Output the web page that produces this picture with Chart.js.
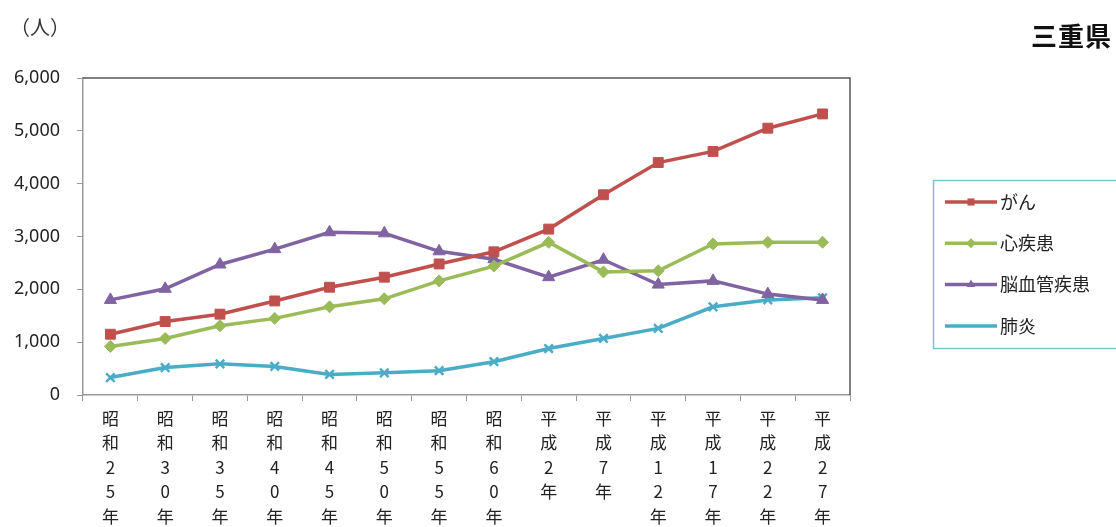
<!DOCTYPE html>
<html lang="ja">
<head>
<meta charset="UTF-8">
<title>三重県 主要死因別死亡数の推移</title>
<script src="https://cdn.jsdelivr.net/npm/chart.js"></script>
<style>
    html, body { margin: 0; padding: 0; background: #fff; }
    .wrap { position: relative; width: 1116px; height: 527px; font-family: 'Noto Sans CJK JP', 'Noto Sans', sans-serif; }
    .unit { position: absolute; left: 10px; top: 12px; font-size: 20px; color: #333; }
    .pref { position: absolute; right: 4px; top: 16px; font-size: 26px; font-weight: 700; color: #111; letter-spacing: 1px; }
    canvas { position: absolute; left: 0; top: 0; }
</style>
</head>
<body>
<div class="wrap">
    <canvas id="chart" width="1116" height="527"></canvas>
    <div class="unit">（人）</div>
    <div class="pref">三重県</div>
</div>
<script>
    // 年次
    const categories = ['昭和25年', '昭和30年', '昭和35年', '昭和40年', '昭和45年', '昭和50年', '昭和55年',
        '昭和60年', '平成2年', '平成7年', '平成12年', '平成17年', '平成22年', '平成27年'];

    // 死因別死亡数（人）
    const gan = [1150, 1390, 1530, 1780, 2040, 2230, 2480, 2710, 3140, 3790, 4400, 4610, 5050, 5320];
    const shinshikkan = [920, 1070, 1310, 1450, 1670, 1820, 2160, 2440, 2890, 2330, 2350, 2860, 2890, 2890];
    const noukekkan = [1800, 2010, 2470, 2760, 3080, 3060, 2720, 2570, 2230, 2560, 2090, 2160, 1910, 1800];
    const haien = [330, 520, 590, 540, 390, 420, 460, 630, 880, 1070, 1260, 1670, 1800, 1840];

    const yTicks = [0, 1000, 2000, 3000, 4000, 5000, 6000];

    const labels = categories.map(c => c.split(''));

    function series(label, data, color, style, radius) {
        return {
            label: label,
            data: data,
            borderColor: color,
            backgroundColor: color,
            borderWidth: 3.5,
            pointStyle: style,
            pointRadius: radius,
            pointHoverRadius: radius,
            pointBorderWidth: style === 'crossRot' ? 2.5 : 1,
            tension: 0
        };
    }

    // 枠線とExcel風の凡例
    const framePlugin = {
        id: 'frame',
        afterDraw(chart) {
            const ctx = chart.ctx;
            const a = chart.chartArea;
            ctx.save();
            ctx.strokeStyle = '#555';
            ctx.lineWidth = 1.5;
            ctx.beginPath();
            ctx.moveTo(a.left, a.top);
            ctx.lineTo(a.right, a.top);
            ctx.lineTo(a.right, a.bottom);
            ctx.stroke();

            // 凡例
            const lx = 933, ly = 180, lw = 200, lh = 168;
            ctx.strokeStyle = '#7cc4d2';
            ctx.lineWidth = 1.5;
            ctx.strokeRect(lx + 0.5, ly + 0.5, lw, lh);
            chart.data.datasets.forEach((ds, i) => {
                const y = 202 + i * 41.3;
                ctx.strokeStyle = ds.borderColor;
                ctx.lineWidth = 3.5;
                ctx.beginPath();
                ctx.moveTo(945, y);
                ctx.lineTo(997, y);
                ctx.stroke();
                ctx.fillStyle = ds.backgroundColor;
                ctx.strokeStyle = ds.borderColor;
                ctx.lineWidth = ds.pointBorderWidth;
                Chart.helpers.drawPoint(ctx, { pointStyle: ds.pointStyle, radius: 5, rotation: 0 }, 971, y);
                ctx.fillStyle = '#222';
                ctx.font = '18px "Noto Sans CJK JP"';
                ctx.textBaseline = 'middle';
                ctx.textAlign = 'left';
                ctx.fillText(ds.label, 1000, y);
            });
            ctx.restore();
        }
    };

    new Chart(document.getElementById('chart'), {
        type: 'line',
        data: {
            labels: labels,
            datasets: [
                series('がん', gan, '#c0504d', 'rect', 7),
                series('心疾患', shinshikkan, '#9bbb59', 'rectRot', 6),
                series('脳血管疾患', noukekkan, '#8064a2', 'triangle', 7),
                series('肺炎', haien, '#4bacc6', 'crossRot', 6)
            ]
        },
        options: {
            responsive: false,
            animation: false,
            layout: { padding: { top: 78, right: 266, left: 0, bottom: 0 } },
            plugins: {
                legend: { display: false },
                tooltip: { enabled: false }
            },
            scales: {
                x: {
                    offset: true,
                    afterFit: s => { s.height = 132; },
                    grid: { offset: true, drawOnChartArea: false, drawTicks: true, tickLength: 6, color: '#999' },
                    border: { display: true, color: '#999', width: 1.5 },
                    ticks: {
                        autoSkip: false,
                        maxRotation: 0,
                        minRotation: 0,
                        padding: 5,
                        color: '#222',
                        font: { family: 'Noto Sans CJK JP', size: 17, lineHeight: '24.5px' }
                    }
                },
                y: {
                    min: 0,
                    max: 6000,
                    afterFit: s => { s.width = 83; },
                    afterBuildTicks: s => { s.ticks = yTicks.map(v => ({ value: v })); },
                    grid: { drawOnChartArea: false, drawTicks: true, tickLength: 6, color: '#999' },
                    border: { display: true, color: '#999', width: 1.5 },
                    ticks: {
                        padding: 17,
                        color: '#222',
                        font: { family: 'Noto Sans', size: 18 },
                        callback: v => v.toLocaleString('en-US')
                    }
                }
            }
        },
        plugins: [framePlugin]
    });
</script>
</body>
</html>
